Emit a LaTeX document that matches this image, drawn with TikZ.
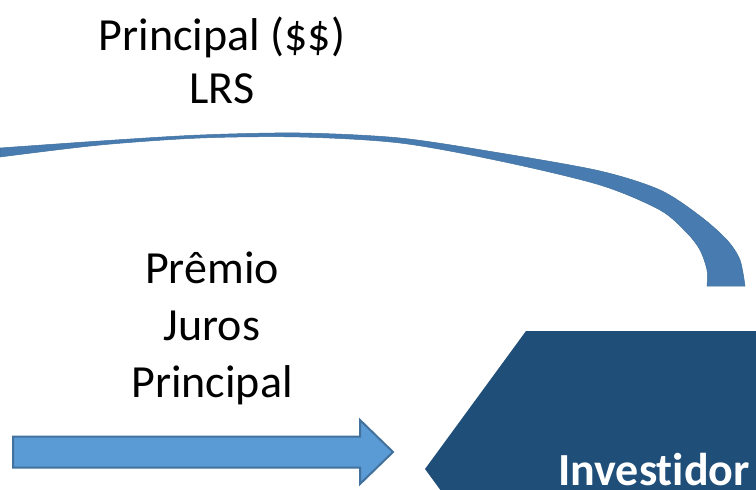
\documentclass[tikz,border=0pt]{standalone}
\usepackage{fontspec}
\setmainfont{Carlito}[Ligatures=NoCommon]
\usetikzlibrary{positioning}
\definecolor{arrowblue}{RGB}{91,155,213}
\definecolor{arrowedge}{RGB}{65,113,156}
\definecolor{bandblue}{RGB}{72,124,176}
\definecolor{investblue}{RGB}{31,78,121}

\begin{document}
\begin{tikzpicture}[x=1pt,y=-1pt,
    flow label/.style={inner sep=0pt,font=\fontsize{46}{55}\selectfont},
    party label/.style={anchor=base west,inner sep=0pt,text=white,text depth=0pt,
        font=\fontsize{46}{55}\selectfont\bfseries},
    block arrow/.style={fill=arrowblue,draw=arrowedge,line width=2pt},
    return band/.style={fill=bandblue,draw=arrowedge,line width=0.5pt}]
    \useasboundingbox (0,0) rectangle (756,490);
    % return band, from the left edge round to the investor
    \coordinate (band left) at (0,148);
    \coordinate (band end) at (745,286);
    \filldraw[return band] (band left) plot[smooth] coordinates {(0,148) (100,141)
        (200,135) (300,133) (400,138) (500,153) (600,171) (660,190) (700,216)
        (727,240) (740,260) (745,286)}
        -- plot[smooth] coordinates {(707,286) (707,270) (700,250) (687,233)
        (660,210) (600,185) (500,161) (400,143) (300,137) (200,138) (100,145)
        (0,157)} -- cycle;
    \node (principal) [flow label,anchor=base] at (222,50) {Principal (\$\$)};
    \node (lrs) [flow label,below=53pt of principal.base,anchor=base] {LRS};
    \node (premio) [flow label,anchor=base] at (212,283) {Prêmio};
    \node (juros) [flow label,below=57pt of premio.base,anchor=base] {Juros};
    \node (principal2) [flow label,below=57pt of juros.base,anchor=base] {Principal};
    % payments flow
    \coordinate (pay tail) at (13,452);
    \coordinate (pay tip) at (393,452);
    \draw[block arrow] (pay tail) ++(0,-15.5) -- ++(347,0) -- ++(0,-16.5)
        -- (pay tip) -- ++(-33,32) -- ++(0,-16.5) -- ++(-347,0) -- cycle;
    % investor, runs past the right and bottom edge
    \fill[investblue] (526,331) coordinate (inv top) -- (425,469) coordinate (inv tip)
        -- (526,607) -- (800,607) -- (800,331) -- cycle;
    \node (investidor) [party label] at (558,485) {Investidor};
\end{tikzpicture}
\end{document}
